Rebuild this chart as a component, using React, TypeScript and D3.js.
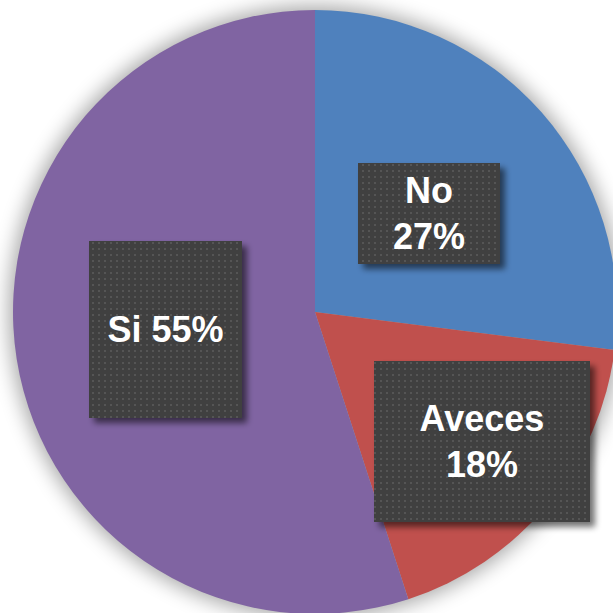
import React from "react";
import * as d3 from "d3";

const categories = ["No", "Aveces", "Si"];
const values = [27, 18, 55];
const labelTexts = [["No", "27%"], ["Aveces", "18%"], ["Si 55%"]];

const colors = ["#4F81BD", "#C0504D", "#8064A2"];

// layout (label boxes, px in chart space)
const boxLayout = [
  { x: 358, y: 163, w: 142, h: 101 },
  { x: 374, y: 361, w: 216, h: 161 },
  { x: 89, y: 241, w: 153, h: 177 },
];

const W = 613;
const H = 613;
const CX = 315;
const CY = 312;
const R = 302;

export default function App() {
  const pie = d3
    .pie<number>()
    .sort(null)
    .value((d) => d);
  const arcs = pie(values);
  const arcGen = d3.arc<d3.PieArcDatum<number>>().innerRadius(0).outerRadius(R);
  const fs = 36;
  const lh = 46;

  return (
    <svg
      width={W}
      height={H}
      style={{ position: "fixed", left: 0, top: 0, background: "#ffffff" }}
      fontFamily="'Liberation Sans', Arial, sans-serif"
    >
      <defs>
        <filter id="pieShadow" x="-20%" y="-20%" width="140%" height="140%">
          <feGaussianBlur in="SourceAlpha" stdDeviation="10" />
          <feComponentTransfer>
            <feFuncA type="linear" slope="0.35" />
          </feComponentTransfer>
          <feMerge>
            <feMergeNode />
          </feMerge>
        </filter>
        <filter id="boxShadow" x="-20%" y="-20%" width="150%" height="150%">
          <feGaussianBlur in="SourceAlpha" stdDeviation="3" />
          <feOffset dx="5" dy="5" result="b" />
          <feComponentTransfer>
            <feFuncA type="linear" slope="0.55" />
          </feComponentTransfer>
          <feMerge>
            <feMergeNode />
            <feMergeNode in="SourceGraphic" />
          </feMerge>
        </filter>
        <pattern id="dots" width="6" height="6" patternUnits="userSpaceOnUse">
          <rect width="6" height="6" fill="#404040" />
          <rect x="2" y="2" width="2" height="2" fill="#555555" />
        </pattern>
      </defs>
      <rect width={W} height={H} fill="#ffffff" />
      <circle cx={CX} cy={CY} r={R + 4} fill="#000" filter="url(#pieShadow)" />
      <g transform={`translate(${CX},${CY})`}>
        {arcs.map((a, i) => (
          <path key={categories[i]} d={arcGen(a) || ""} fill={colors[i]} />
        ))}
      </g>
      {boxLayout.map((b, i) => {
        const lines = labelTexts[i];
        const cx = b.x + b.w / 2;
        const cy = b.y + b.h / 2;
        const startY = cy - ((lines.length - 1) * lh) / 2;
        return (
          <g key={categories[i] + "-label"}>
            <rect
              x={b.x}
              y={b.y}
              width={b.w}
              height={b.h}
              fill="url(#dots)"
              filter="url(#boxShadow)"
            />
            {lines.map((t, j) => (
              <text
                key={j}
                x={cx}
                y={startY + j * lh}
                textAnchor="middle"
                dominantBaseline="central"
                fill="#ffffff"
                fontWeight="bold"
                fontSize={fs}
              >
                {t}
              </text>
            ))}
          </g>
        );
      })}
    </svg>
  );
}
